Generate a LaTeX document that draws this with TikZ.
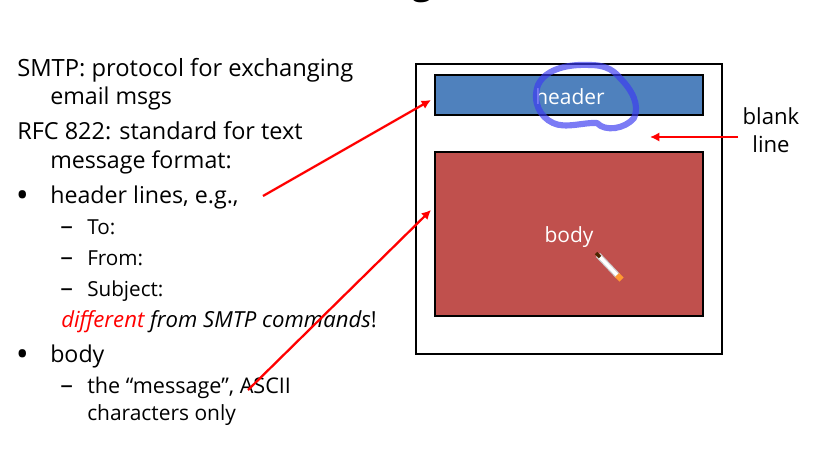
\documentclass[tikz,border=0pt]{standalone}
\usepackage{fontspec}
\setmainfont{Open Sans}
\usetikzlibrary{arrows.meta,calc}
\definecolor{headerblue}{RGB}{79,129,189}
\definecolor{bodyred}{RGB}{192,80,77}
\definecolor{penblue}{RGB}{60,60,240}
\tikzstyle{box}=[rectangle,thick,draw=black,inner sep=0pt,anchor=center,text=white]
\tikzstyle{annot}=[anchor=base west,inner sep=0pt,font=\fontsize{17.4}{20}\selectfont]
\tikzstyle{subannot}=[annot,font=\fontsize{15.5}{18}\selectfont]
\tikzstyle{redarrow}=[draw=red,line width=1.7pt,-{Latex[length=7pt,width=7pt]}]
\begin{document}
\begin{tikzpicture}[x=0.75pt,y=0.75pt]
	\useasboundingbox (0,0) rectangle (820,-453);

	% title is cut off by the top edge
	\node[annot,font=\fontsize{26}{30}\selectfont\bfseries] (title) at (412,5.5){g};

	% message boxes
	\node[box,line width=1.5pt,minimum width=229.5pt,minimum height=217.5pt] (message) at (569,-209){};
	\node[box,fill=headerblue,minimum width=201pt,minimum height=30pt] (header) at (569,-95){};
	\node[inner sep=0pt,text=white,font=\fontsize{15.7}{18}\selectfont] (headerlabel) at (570,-97){header};
	\node[box,fill=bodyred,minimum width=201pt,minimum height=123pt] (body) at (569,-234){};
	\node[inner sep=0pt,text=white,font=\fontsize{15.7}{18}\selectfont] (bodylabel) at (569,-237){body};

	% left text
	\node[annot,font=\fontsize{17.8}{20}\selectfont] (smtp) at (17,-76){SMTP: protocol for exchanging};
	\node[annot] (smtp2) at (50,-104){email msgs};
	\node[annot,font=\fontsize{17.6}{20}\selectfont] (rfc) at (17,-139){RFC 822: standard for text};
	\node[annot] (rfc2) at (50,-168){message format:};
	\node[annot,font=\fontsize{20}{20}\selectfont\bfseries] (bullet1) at (17,-204){•};
	\node[annot] (lines) at (50,-203){header lines, e.g.,};
	\node[subannot] (dash1) at (60,-234){\fontsize{19}{18}\selectfont –};
	\node[subannot] (to) at (87,-234){To:};
	\node[subannot] (dash2) at (60,-265){\fontsize{19}{18}\selectfont –};
	\node[subannot] (from) at (87,-265){From:};
	\node[subannot] (dash3) at (60,-296){\fontsize{19}{18}\selectfont –};
	\node[subannot] (subject) at (87,-296){Subject:};
	\node[subannot,font=\fontsize{16.6}{18}\selectfont] (different) at (61,-327){\textit{\textcolor{red}{different} from SMTP commands}!};
	\node[annot,font=\fontsize{20}{20}\selectfont\bfseries] (bullet2) at (17,-363){•};
	\node[annot] (bodyitem) at (50,-362){body};
	\node[subannot] (dash4) at (60,-393){\fontsize{19}{18}\selectfont –};
	\node[subannot,font=\fontsize{16.2}{18}\selectfont] (ascii) at (87,-393){the ``message'', ASCII};
	\node[subannot,font=\fontsize{15.7}{18}\selectfont] (ascii2) at (87,-420){characters only};
	\node[align=center,inner sep=0pt,font=\fontsize{16.6}{21}\selectfont] (blank) at (771,-130){blank\\line};

	% arrows
	\coordinate (headertail) at (263,-196);
	\coordinate (headertip) at (431,-100);
	\coordinate (bodytail) at (248,-390);
	\coordinate (bodytip) at (431,-210);
	\coordinate (blanktail) at (738,-137);
	\coordinate (blanktip) at (650,-137);
	\draw[redarrow] (headertail) -- (headertip);
	\draw[redarrow] (bodytail) -- (bodytip);
	\draw[redarrow] (blanktail) -- (blanktip);

	% pen scribble round the header
	\draw[penblue,opacity=0.68,line width=4.6pt,line cap=round,line join=round]
		(590,-65) .. controls (570,-64) and (546,-68) .. (538,-85)
		.. controls (532,-102) and (540,-117) .. (553,-123)
		.. controls (565,-129) and (585,-122) .. (597,-123)
		.. controls (605,-132) and (625,-129) .. (634,-118)
		.. controls (640,-105) and (632,-90) .. (620,-78)
		.. controls (612,-68) and (602,-65) .. (590,-65);

	% pen cursor
	\draw[white!80!black,line width=4.4pt] (598,-255) -- (618,-276);
	\draw[white,line width=2.6pt] (599,-256) -- (617,-275);
	\draw[orange!80!white,line width=4.4pt] (617,-275) -- (621.5,-279.5);
	\draw[black!70!orange,line width=2.5pt] (596,-253) -- (600,-257);
\end{tikzpicture}
\end{document}
